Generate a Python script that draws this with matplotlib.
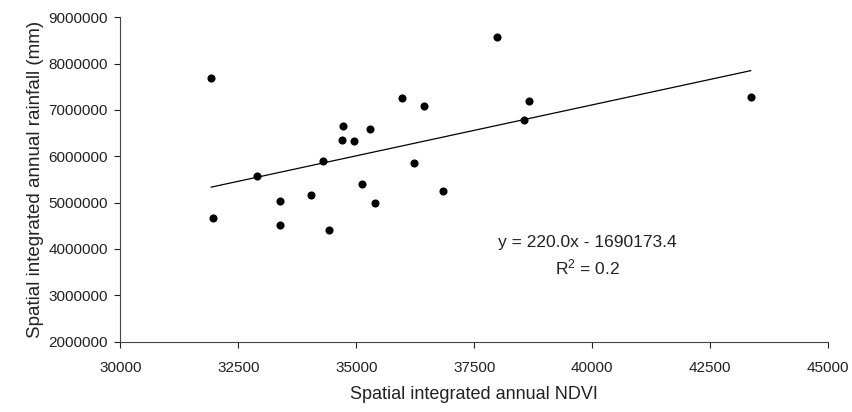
import matplotlib
matplotlib.use("Agg")
import matplotlib.pyplot as plt
import numpy as np

plt.rcParams['font.family'] = ['Liberation Sans', 'DejaVu Sans']

ndvi = [31927, 31970, 32897, 33378, 33378, 34042, 34296, 34417, 34720, 34699,
        34960, 35123, 35286, 35399, 35971, 36444, 36232, 36847, 37979, 38649,
        38558, 43357]
rainfall = [7690000, 4670000, 5570000, 5040000, 4510000, 5160000, 5890000, 4400000,
            6650000, 6350000, 6320000, 5400000, 6590000, 5000000, 7260000, 7090000,
            5860000, 5240000, 8580000, 7190000, 6780000, 7290000]
slope = 220.0
intercept = -1690173.4
r2 = 0.2

xticks = [30000, 32500, 35000, 37500, 40000, 42500, 45000]
yticks = [2000000, 3000000, 4000000, 5000000, 6000000, 7000000, 8000000, 9000000]

fig = plt.figure(figsize=(8.53, 4.12), dpi=100)
ax = fig.add_axes([0.141, 0.171, 0.830, 0.787])

ax.scatter(ndvi, rainfall, s=34, color='black', zorder=3, linewidths=0)
xl = np.array([min(ndvi), max(ndvi)])
ax.plot(xl, slope * xl + intercept, color='black', lw=0.9)

ax.set_xlim(30000, 45000)
ax.set_ylim(2000000, 9000000)
ax.set_xticks(xticks)
ax.set_yticks(yticks)
ax.set_xticklabels([str(t) for t in xticks])
ax.set_yticklabels([str(t) for t in yticks])
ax.tick_params(axis='both', labelsize=11, direction='out', length=4, width=0.8,
               colors='#222222', labelcolor='#222222')
ax.tick_params(axis='x', pad=10)
ax.tick_params(axis='y', pad=5)
for s in ['top', 'right']:
    ax.spines[s].set_visible(False)
for s in ['left', 'bottom']:
    ax.spines[s].set_linewidth(0.8)
    ax.spines[s].set_color('#444444')

ax.set_xlabel('Spatial integrated annual NDVI', fontsize=13, color='#222222', labelpad=8)
ax.set_ylabel('Spatial integrated annual rainfall (mm)', fontsize=13.5, color='#222222')
ax.yaxis.set_label_coords(-0.108, 0.5)

ax.text(0.66, 0.304, 'y = %.1fx - %.1f' % (slope, -intercept), transform=ax.transAxes,
        ha='center', va='center', fontsize=12.5, color='#222222')
ax.text(0.66, 0.230, '$\\mathregular{R^2}$ = %.1f' % r2, transform=ax.transAxes,
        ha='center', va='center', fontsize=12.5, color='#222222')

fig.savefig('out.png', dpi=100)
